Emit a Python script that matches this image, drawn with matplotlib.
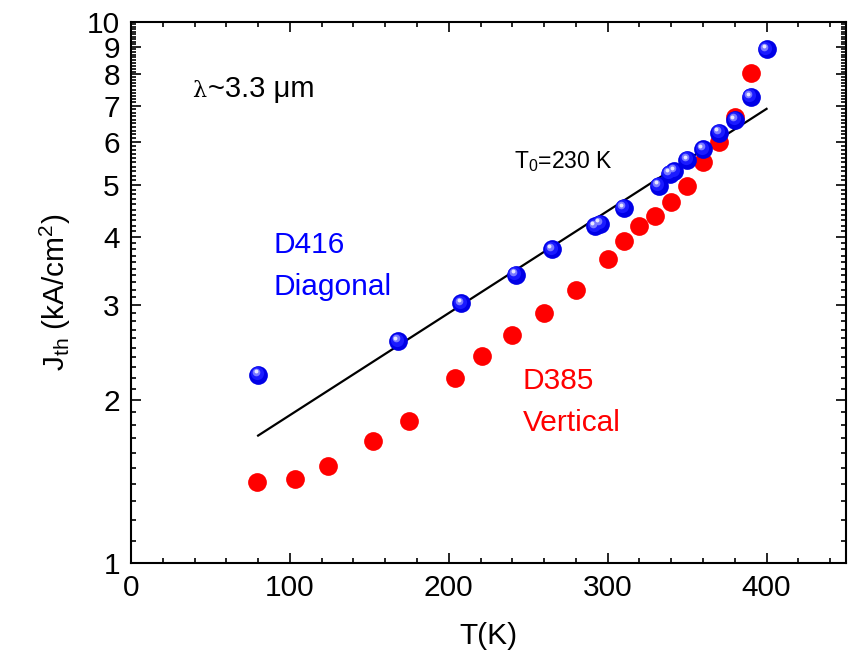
import matplotlib
matplotlib.use('Agg')
import matplotlib.pyplot as plt
from matplotlib.transforms import offset_copy
import numpy as np

plt.rcParams['font.family'] = ['Liberation Sans', 'DejaVu Sans']
plt.rcParams['mathtext.fontset'] = 'custom'
plt.rcParams['mathtext.rm'] = 'Liberation Sans'
plt.rcParams['mathtext.it'] = 'Liberation Sans:italic'

# D416, diagonal facet
T_diag = [80, 168, 208, 242, 265, 292, 295, 310, 332, 339, 342, 350, 360, 370, 380, 390, 400]
J_diag = [2.23, 2.57, 3.02, 3.41, 3.80, 4.19, 4.24, 4.53, 4.98, 5.24, 5.30, 5.56, 5.82, 6.24, 6.59, 7.27, 8.9]

# D385, vertical facet
T_vert = [79, 103, 124, 152, 175, 204, 221, 240, 260, 280, 300, 310, 320, 330, 340, 350, 360, 370, 380, 390]
J_vert = [1.41, 1.43, 1.51, 1.68, 1.83, 2.20, 2.41, 2.64, 2.90, 3.20, 3.65, 3.93, 4.19, 4.38, 4.65, 4.98, 5.50, 5.99, 6.67, 8.04]

# exponential fit, T0 = 230 K
T_fit = [80, 400]
J_fit = [1.72, 6.91]

fig = plt.figure(figsize=(8.52, 6.65), dpi=100)
ax = fig.add_axes([131/852, 102/665, 715/852, 541/665])

ax.plot(T_fit, J_fit, color='black', lw=1.6, zorder=2)

ax.plot(T_vert, J_vert, 'o', color='#ff0000', ms=13.5, mec='none', zorder=3)

# shaded spheres: base disc plus offset highlights
ax.plot(T_diag, J_diag, 'o', color='#0000e6', ms=13.5, mec='none', zorder=4)
hl1 = offset_copy(ax.transData, fig=fig, x=-1.2, y=1.6, units='dots')
hl2 = offset_copy(ax.transData, fig=fig, x=-2.2, y=2.8, units='dots')
hl3 = offset_copy(ax.transData, fig=fig, x=-2.6, y=3.4, units='dots')
ax.plot(T_diag, J_diag, 'o', color='#1a1aff', ms=9.5, mec='none', transform=hl1, zorder=5)
ax.plot(T_diag, J_diag, 'o', color='#7a7aff', ms=5.5, mec='none', transform=hl2, zorder=6)
ax.plot(T_diag, J_diag, 'o', color='#e8e8ff', ms=2.8, mec='none', transform=hl3, zorder=7)

ax.set_yscale('log')
ax.set_xlim(0, 450)
ax.set_ylim(1, 10)

ax.set_xticks([0, 100, 200, 300, 400])
ax.set_xticks(np.arange(20, 450, 20), minor=True)
yt = [1, 2, 3, 4, 5, 6, 7, 8, 9, 10]
ax.set_yticks(yt)
ax.set_yticklabels([str(v) for v in yt])
ym = [v / 10 for v in range(11, 100) if v % 10 != 0]
ax.set_yticks(ym, minor=True)
ax.yaxis.set_minor_formatter(plt.NullFormatter())

ax.tick_params(which='both', direction='in', top=True, right=True, width=1.2,
               labelsize=21.5)
ax.tick_params(which='major', length=7.5, pad=8)
ax.tick_params(which='minor', length=3.8)
for s in ax.spines.values():
    s.set_linewidth(1.5)

ax.set_xlabel('T(K)', fontsize=21.5, labelpad=14)
ax.set_ylabel(r'J$_{\rm th}$ (kA/cm$^2$)', fontsize=21.5, labelpad=10)

ax.text(38.4, 7.27, 'λ', fontsize=16, family=['DejaVu Serif'], va='baseline')
ax.text(48.4, 7.27, '~3.3 μm', fontsize=21, va='baseline')
ax.text(241, 5.37, r'T$_0$=230 K', fontsize=16.5, va='baseline')
ax.text(90, 3.74, 'D416', fontsize=21.5, color='#0000ff', va='baseline')
ax.text(90, 3.13, 'Diagonal', fontsize=21.5, color='#0000ff', va='baseline')
ax.text(246.5, 2.10, 'D385', fontsize=21.5, color='#ff0000', va='baseline')
ax.text(246.5, 1.754, 'Vertical', fontsize=21.5, color='#ff0000', va='baseline')

fig.savefig('out.png', dpi=100)
